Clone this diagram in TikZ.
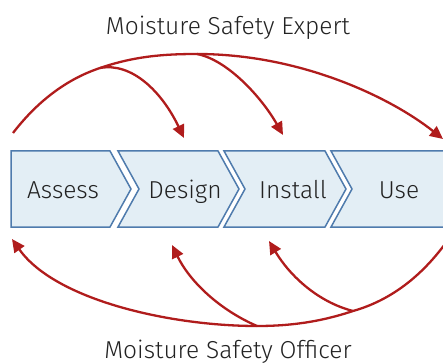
\documentclass[tikz,border=0pt]{standalone}
\usepackage{fontspec}
\setmainfont{Fira Sans}[UprightFont={* Light}]
\usetikzlibrary{arrows.meta}
\definecolor{boxfill}{HTML}{E3EEF5}
\definecolor{boxline}{HTML}{4F7BAD}
\definecolor{arr}{HTML}{B01C1C}
\definecolor{txt}{HTML}{222222}
\tikzset{
  chev/.style={draw=boxline, fill=boxfill, line width=1.5pt, line join=miter},
  lbl/.style={text=txt, font=\fontsize{24.5}{28}\selectfont, inner sep=0pt, anchor=base},
  flow/.style={draw=arr, line width=2.3pt, -{Triangle[length=13pt,width=12pt]}},
  trunk/.style={draw=arr, line width=2.3pt}
}
\begin{document}
\begin{tikzpicture}[x=1pt,y=-1pt]
\useasboundingbox (0,0) rectangle (443,363);
\clip (0,0) rectangle (443,363);
% chevrons
\draw[chev] (11,151) -- (110,151) -- (131,189) -- (110,227) -- (11,227) -- cycle;
\draw[chev] (118,151) -- (218,151) -- (239,189) -- (218,227) -- (118,227) -- (139,189) -- cycle;
\draw[chev] (224,151) -- (325,151) -- (346,189) -- (325,227) -- (224,227) -- (245,189) -- cycle;
\draw[chev] (331,151) -- (460,151) -- (460,227) -- (331,227) -- (352,189) -- cycle;
% labels
\node[lbl] (assess) at (63,198) {Assess};
\node[lbl] (design) at (185,198) {Design};
\node[lbl] (install) at (293,198) {Install};
\node[lbl] (use) at (399,198) {Use};
\node[lbl] (expert) at (228,35) {Moisture Safety Expert};
\node[lbl] (officer) at (228,358) {Moisture Safety Officer};
% top arrows
\coordinate (s1) at (13,133);
\coordinate (b1) at (100,68);
\coordinate (p1) at (197,54);
\coordinate (t1) at (184,138);
\coordinate (t2) at (283,135);
\coordinate (t3) at (443,139);
\draw[trunk] (s1) .. controls (40,98) and (70,78) .. (b1) .. controls (135,56) and (165,54) .. (p1);
\draw[flow] (p1) .. controls (300,54) and (390,97) .. (t3);
\draw[flow] (b1) .. controls (132,62) and (162,92) .. (t1);
\draw[flow] (p1) .. controls (228,60) and (262,98) .. (t2);
% bottom arrows
\coordinate (s2) at (445,244);
\coordinate (b3) at (353,311);
\coordinate (b2) at (257,326);
\coordinate (u1) at (12,239);
\coordinate (u2) at (172,245);
\coordinate (u3) at (269,241);
\draw[trunk] (s2) .. controls (422,275) and (392,300) .. (b3) .. controls (320,322) and (290,326) .. (b2);
\draw[flow] (b2) .. controls (170,326) and (55,300) .. (u1);
\draw[flow] (b2) .. controls (220,310) and (190,282) .. (u2);
\draw[flow] (b3) .. controls (318,302) and (290,276) .. (u3);
\end{tikzpicture}
\end{document}
